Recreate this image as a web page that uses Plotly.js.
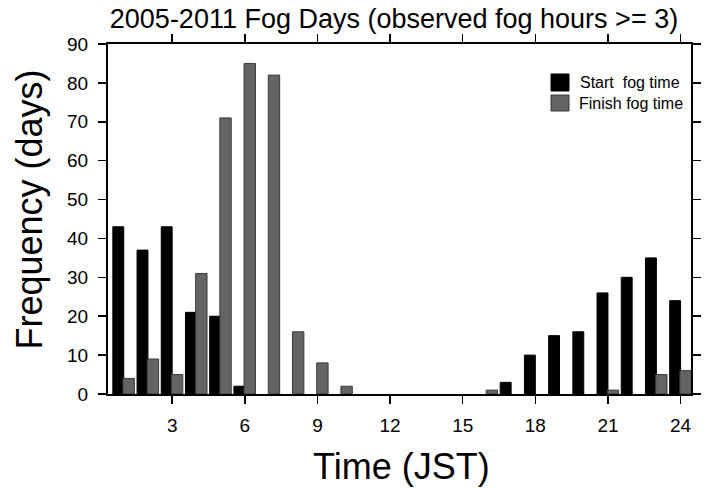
<!DOCTYPE html>
<html>
<head>
<meta charset="utf-8">
<script src="https://cdn.plot.ly/plotly-3.0.1.min.js"></script>
<style>html,body{margin:0;padding:0;background:#fff;}#chart{width:710px;height:488px;}</style>
</head>
<body>
<div id="chart"></div>
<script>
// Hours (JST)
const hours = [1,2,3,4,5,6,7,8,9,10,11,12,13,14,15,16,17,18,19,20,21,22,23,24];
// Start fog time frequency (days)
const startFog = [43,37,43,21,20,2,0,0,0,0,0,0,0,0,0,0,3,10,15,16,26,30,35,24];
// Finish fog time frequency (days)
const finishFog = [4,9,5,31,71,85,82,16,8,2,0,0,0,0,0,1,0,0,0,0,1,0,5,6];
const xTicks = [3,6,9,12,15,18,21,24];
const yTicks = [0,10,20,30,40,50,60,70,80,90];
const seriesNames = ['Start  fog time', 'Finish fog time'];

const FONT = 'Liberation Sans, Arial, Helvetica, sans-serif';
const COLORS = ['#000000', '#646464'];
const EDGES = ['#000000', '#3a3a3a'];

// pixel -> paper helpers (plot area 108..691 x 44..394)
const PL = 108, PR = 691, PT = 44, PB = 394;
const px = v => (v - PL) / (PR - PL);
const py = v => (PB - v) / (PB - PT);

const traces = [
  {
    type: 'bar', name: seriesNames[0], x: hours, y: startFog,
    offset: -0.45, width: 0.45, showlegend: false,
    marker: {color: COLORS[0], line: {color: EDGES[0], width: startFog.map(v => v > 0 ? 1 : 0)}}
  },
  {
    type: 'bar', name: seriesNames[1], x: hours, y: finishFog,
    offset: -0.03, width: 0.47, showlegend: false,
    marker: {color: COLORS[1], line: {color: EDGES[1], width: finishFog.map(v => v > 0 ? 1 : 0)}}
  }
];

// custom legend (squares + labels)
const legendRows = [{top: 74, bottom: 91, textY: 82.5, textX: 578}, {top: 95, bottom: 111, textY: 103.5, textX: 577}];
const shapes = legendRows.map((r, i) => ({
  type: 'rect', xref: 'paper', yref: 'paper',
  x0: px(551), x1: px(569), y0: py(r.bottom), y1: py(r.top),
  fillcolor: COLORS[i], line: {color: EDGES[i], width: 1}
}));
const legendAnn = legendRows.map((r, i) => ({
  text: seriesNames[i], xref: 'paper', yref: 'paper',
  x: px(r.textX), y: py(r.textY), xanchor: 'left', yanchor: 'middle',
  showarrow: false, font: {family: FONT, size: 16, color: '#000'}
}));

const layout = {
  width: 710, height: 488,
  margin: {l: PL, r: 710 - PR, t: PT, b: 488 - PB, pad: 0},
  paper_bgcolor: '#ffffff', plot_bgcolor: '#ffffff',
  barmode: 'overlay',
  font: {family: FONT, color: '#000000'},
  title: {
    text: '2005-2011 Fog Days (observed fog hours >= 3)',
    font: {family: FONT, size: 27, color: '#000000'},
    xref: 'container', x: 394/710, xanchor: 'center',
    yref: 'container', y: 1 - 19/488, yanchor: 'middle'
  },
  xaxis: {
    range: [0.35, 24.43], tickmode: 'array', tickvals: xTicks, ticktext: xTicks.map(String),
    ticks: 'outside', ticklen: 8, tickwidth: 1.5, tickcolor: '#000',
    showline: true, linewidth: 2, linecolor: '#000', mirror: 'ticks',
    showgrid: false, zeroline: false, ticklabelstandoff: 5,
    tickfont: {family: FONT, size: 19, color: '#000'}
  },
  yaxis: {
    range: [0, 90], tickmode: 'array', tickvals: yTicks, ticktext: yTicks.map(String),
    ticks: 'outside', ticklen: 8, tickwidth: 1.5, tickcolor: '#000',
    showline: true, linewidth: 2, linecolor: '#000', mirror: 'ticks',
    showgrid: false, zeroline: false, ticklabelstandoff: 6,
    tickfont: {family: FONT, size: 19, color: '#000'}
  },
  showlegend: false,
  shapes: shapes,
  annotations: legendAnn.concat([
    {text: 'Frequency (days)', textangle: -90, xref: 'paper', yref: 'paper',
     x: px(29), y: py(209.5), xanchor: 'center', yanchor: 'middle',
     showarrow: false, font: {family: FONT, size: 36, color: '#000'}},
    {text: 'Time (JST)', xref: 'paper', yref: 'paper',
     x: px(401.7), y: py(466), xanchor: 'center', yanchor: 'middle',
     showarrow: false, font: {family: FONT, size: 36, color: '#000'}}
  ])
};

Plotly.newPlot('chart', traces, layout, {displayModeBar: false, staticPlot: true});
</script>
</body>
</html>
